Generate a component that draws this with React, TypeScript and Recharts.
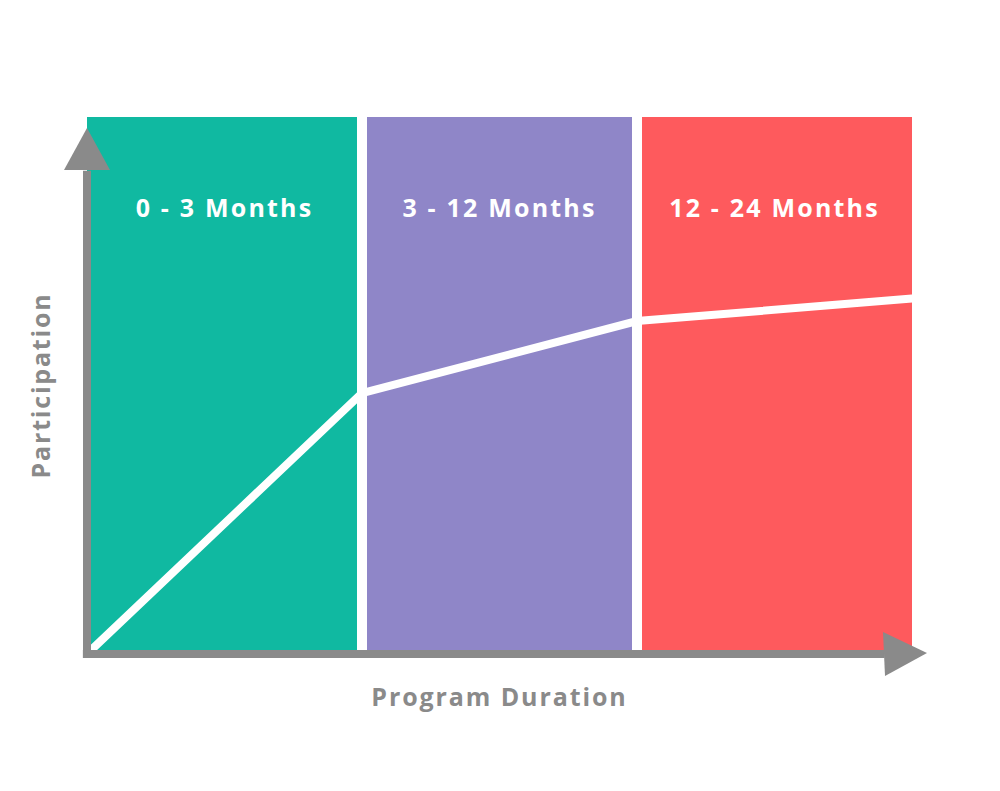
import { ComposedChart, Line, XAxis, YAxis, ReferenceArea, ReferenceLine, ReferenceDot } from 'recharts';

// phase positions along the x axis (equal-width bands)
const phaseStarts = [0, 1, 2];
const phaseEnds = [1, 2, 3];
const phaseLabels = ['0 - 3 Months', '3 - 12 Months', '12 - 24 Months'];
const phaseColors = ['#10b9a1', '#8f86c8', '#fe5a5d'];

// participation curve
const durationPoints = [0, 1, 2, 3];
const participation = [0, 48.6, 62, 66.2];

const data = durationPoints.map((d, i) => ({ duration: d, participation: participation[i] }));

const AXIS_GREY = '#8a8a8a';
const FONT = '"Open Sans", Lato, sans-serif';

const upArrow = (props: any) => {
    const { cx, cy } = props;
    return <polygon points={`${cx},${cy + 11} ${cx - 23},${cy + 53} ${cx + 23},${cy + 53}`} fill={AXIS_GREY} />;
};

const rightArrow = (props: any) => {
    const { cx, cy } = props;
    return <polygon points={`${cx + 15},${cy - 1} ${cx - 29},${cy - 22} ${cx - 27},${cy + 22}`} fill={AXIS_GREY} />;
};

export default function App() {
    return (
        <div style={{ position: 'absolute', left: 0, top: 0, width: 1000, height: 791, background: '#fff' }}>
            <ComposedChart width={1000} height={791} data={data} margin={{ top: 117, right: 88, bottom: 51, left: 0 }}>
                <XAxis
                    type="number"
                    dataKey="duration"
                    domain={[0, 3]}
                    tick={false}
                    axisLine={false}
                    tickLine={false}
                    height={86}
                    label={{ value: 'Program Duration', position: 'center', fill: AXIS_GREY, fontSize: 25, fontWeight: 700, fontFamily: FONT, letterSpacing: 1.9 }}
                />
                <YAxis
                    type="number"
                    domain={[0, 100]}
                    tick={false}
                    axisLine={false}
                    tickLine={false}
                    width={87}
                    label={{ value: 'Participation', position: 'center', angle: -90, dx: -2, fill: AXIS_GREY, fontSize: 25, fontWeight: 700, fontFamily: FONT, letterSpacing: 1.8 }}
                />
                {phaseStarts.map((s, i) => (
                    <ReferenceArea
                        key={phaseLabels[i]}
                        x1={s}
                        x2={phaseEnds[i]}
                        y1={0}
                        y2={100}
                        fill={phaseColors[i]}
                        fillOpacity={1}
                        stroke="none"
                        label={{ value: phaseLabels[i], position: 'insideTop', offset: 82, fill: '#fff', fontSize: 25, fontWeight: 700, fontFamily: FONT, letterSpacing: 2.2 }}
                    />
                ))}
                {phaseEnds.slice(0, 2).map((e) => (
                    <ReferenceLine key={e} x={e} stroke="#fff" strokeWidth={10} />
                ))}
                <Line
                    type="linear"
                    dataKey="participation"
                    stroke="#fff"
                    strokeWidth={8}
                    strokeLinecap="round"
                    dot={false}
                    activeDot={false}
                    isAnimationActive={false}
                />
                <ReferenceLine segment={[{ x: 0, y: 0 }, { x: 0, y: 90 }]} stroke={AXIS_GREY} strokeWidth={8} ifOverflow="visible" />
                <ReferenceLine segment={[{ x: -0.015, y: 0 }, { x: 2.9, y: 0 }]} stroke={AXIS_GREY} strokeWidth={8} ifOverflow="visible" />
                <ReferenceDot x={0} y={100} r={1} shape={upArrow} ifOverflow="visible" />
                <ReferenceDot x={3} y={0} r={1} shape={rightArrow} ifOverflow="visible" />
            </ComposedChart>
        </div>
    );
}
